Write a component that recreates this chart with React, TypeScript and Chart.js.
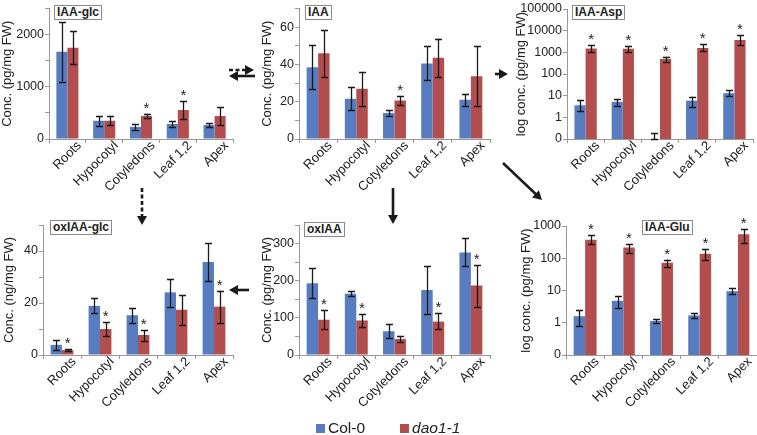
import React, { useEffect, useRef } from "react";
import { Chart, registerables } from "chart.js";
Chart.register(...registerables);

const FONT = '"Liberation Sans", Arial, sans-serif';
const categories = ["Roots", "Hypocotyl", "Cotyledons", "Leaf 1,2", "Apex"];
const seriesNames = ["Col-0", "dao1-1"];
const seriesColors = ["#587cc0", "#b24e4d"];

// IAA-glc (pg/mg FW)
const iaaGlcCol = [1670, 350, 232, 287, 268];
const iaaGlcColLo = [1100, 258, 180, 230, 228];
const iaaGlcColHi = [2240, 442, 284, 344, 308];
const iaaGlcDao = [1746, 350, 440, 554, 440];
const iaaGlcDaoLo = [1430, 262, 396, 376, 262];
const iaaGlcDaoHi = [2065, 438, 488, 732, 618];
const iaaGlcSig = [false, false, true, true, false];

// IAA (pg/mg FW)
const iaaCol = [38.5, 21.6, 13.9, 40.5, 21.1];
const iaaColLo = [27, 15.3, 12.6, 31.5, 17.8];
const iaaColHi = [50.5, 27.9, 15.3, 49.9, 24.3];
const iaaDao = [46, 26.9, 20.7, 43.6, 33.7];
const iaaDaoLo = [33.5, 17.5, 18.4, 33.4, 17.8];
const iaaDaoHi = [58.5, 35.8, 22.9, 53.9, 49.9];
const iaaSig = [false, false, true, false, false];

// IAA-Asp (log, pg/mg FW)
const iaaAspCol = [3.6, 5.2, 0.1, 5.9, 13];
const iaaAspColLo = [1.9, 3.3, 0.1, 3.1, 9.2];
const iaaAspColHi = [6.2, 7.2, 0.19, 9.1, 18.6];
const iaaAspDao = [1500, 1450, 490, 1600, 3700];
const iaaAspDaoLo = [1050, 1050, 340, 1100, 2250];
const iaaAspDaoHi = [2100, 2000, 640, 2300, 6300];
const iaaAspSig = [true, true, true, true, true];

// oxIAA-glc (ng/mg FW)
const oxIaaGlcCol = [3.9, 18.9, 15.3, 24.1, 35.8];
const oxIaaGlcColLo = [1.9, 16.1, 12.5, 18.4, 28.6];
const oxIaaGlcColHi = [5.8, 21.9, 18.0, 29.3, 43.1];
const oxIaaGlcDao = [1.9, 10.0, 7.7, 17.4, 18.6];
const oxIaaGlcDaoLo = [1.4, 7.3, 5.5, 11.6, 12.2];
const oxIaaGlcDaoHi = [2.4, 12.6, 9.6, 23.2, 24.8];
const oxIaaGlcSig = [true, true, true, false, true];

// oxIAA (pg/mg FW)
const oxIaaCol = [193, 165, 64, 175, 276];
const oxIaaColLo = [153, 158, 45, 111, 239];
const oxIaaColHi = [234, 171, 83, 239, 314];
const oxIaaDao = [95, 93, 43, 90, 187];
const oxIaaDaoLo = [69, 75, 34, 69, 129];
const oxIaaDaoHi = [120, 111, 52, 112, 241];
const oxIaaSig = [true, true, false, true, true];

// IAA-Glu (log, pg/mg FW)
const iaaGluCol = [1.6, 4.8, 1.13, 1.69, 9.5];
const iaaGluColLo = [0.8, 2.8, 1.0, 1.36, 7.7];
const iaaGluColHi = [2.46, 6.7, 1.27, 2.04, 11.6];
const iaaGluDao = [378, 214, 72, 139, 552];
const iaaGluDaoLo = [284, 146, 54, 87, 298];
const iaaGluDaoHi = [514, 284, 91, 198, 828];
const iaaGluSig = [true, true, true, true, true];

const logTicksAsp = [0.1, 1, 10, 100, 1000, 10000, 100000];
const logTicksGlu = [0.1, 1, 10, 100, 1000];

type Panel = {
  name: string;
  yTitle: string;
  log: boolean;
  max: number;
  step?: number;
  labelStep?: number;
  logTicks?: number[];
  col: number[]; colLo: number[]; colHi: number[];
  dao: number[]; daoLo: number[]; daoHi: number[];
  sig: boolean[];
  plot: { l: number; t: number; r: number; b: number };
  titleLeft: number;
  box: { x: number; y: number };
};

const panels: Panel[] = [
  { name: "IAA-glc", yTitle: "Conc. (pg/mg FW)", log: false, max: 2500, step: 500, labelStep: 1000,
    col: iaaGlcCol, colLo: iaaGlcColLo, colHi: iaaGlcColHi, dao: iaaGlcDao, daoLo: iaaGlcDaoLo, daoHi: iaaGlcDaoHi, sig: iaaGlcSig,
    plot: { l: 49, t: 8, r: 233, b: 139 }, titleLeft: 0, box: { x: 54, y: 5 } },
  { name: "IAA", yTitle: "Conc. (pg/mg FW)", log: false, max: 70, step: 10, labelStep: 20,
    col: iaaCol, colLo: iaaColLo, colHi: iaaColHi, dao: iaaDao, daoLo: iaaDaoLo, daoHi: iaaDaoHi, sig: iaaSig,
    plot: { l: 299, t: 8, r: 490, b: 139 }, titleLeft: 260, box: { x: 305, y: 5 } },
  { name: "IAA-Asp", yTitle: "log conc. (pg/mg FW)", log: true, max: 100000, logTicks: logTicksAsp,
    col: iaaAspCol, colLo: iaaAspColLo, colHi: iaaAspColHi, dao: iaaAspDao, daoLo: iaaAspDaoLo, daoHi: iaaAspDaoHi, sig: iaaAspSig,
    plot: { l: 567, t: 9, r: 753, b: 139 }, titleLeft: 514, box: { x: 572, y: 5 } },
  { name: "oxIAA-glc", yTitle: "Conc. (ng/mg FW)", log: false, max: 50, step: 10, labelStep: 20,
    col: oxIaaGlcCol, colLo: oxIaaGlcColLo, colHi: oxIaaGlcColHi, dao: oxIaaGlcDao, daoLo: oxIaaGlcDaoLo, daoHi: oxIaaGlcDaoHi, sig: oxIaaGlcSig,
    plot: { l: 43, t: 225, r: 233, b: 355 }, titleLeft: 2, box: { x: 50, y: 220 } },
  { name: "oxIAA", yTitle: "Conc. (pg/mg FW)", log: false, max: 350, step: 50, labelStep: 100,
    col: oxIaaCol, colLo: oxIaaColLo, colHi: oxIaaColHi, dao: oxIaaDao, daoLo: oxIaaDaoLo, daoHi: oxIaaDaoHi, sig: oxIaaSig,
    plot: { l: 299, t: 225, r: 490, b: 355 }, titleLeft: 260, box: { x: 304, y: 222 } },
  { name: "IAA-Glu", yTitle: "log conc. (pg/mg FW)", log: true, max: 1000, logTicks: logTicksGlu,
    col: iaaGluCol, colLo: iaaGluColLo, colHi: iaaGluColHi, dao: iaaGluDao, daoLo: iaaGluDaoLo, daoHi: iaaGluDaoHi, sig: iaaGluSig,
    plot: { l: 566, t: 226, r: 757, b: 355 }, titleLeft: 519, box: { x: 642, y: 220 } },
];

const W = 757;
const H = 435;

const errorBarPlugin = {
  id: "errorBars",
  afterDatasetsDraw(chart: any) {
    const { ctx } = chart;
    const y = chart.scales.y;
    chart.data.datasets.forEach((ds: any, i: number) => {
      const meta = chart.getDatasetMeta(i);
      meta.data.forEach((bar: any, j: number) => {
        const x = Math.round(bar.x) + 0.5;
        const yl = y.getPixelForValue(ds.errLo[j]);
        const yh = y.getPixelForValue(ds.errHi[j]);
        ctx.save();
        ctx.strokeStyle = "#1a1a1a";
        ctx.lineWidth = 1.3;
        ctx.beginPath();
        ctx.moveTo(x, yl);
        ctx.lineTo(x, yh);
        ctx.moveTo(x - 3.5, Math.round(yl) + 0.5);
        ctx.lineTo(x + 3.5, Math.round(yl) + 0.5);
        ctx.moveTo(x - 3.5, Math.round(yh) + 0.5);
        ctx.lineTo(x + 3.5, Math.round(yh) + 0.5);
        ctx.stroke();
        if (ds.sig && ds.sig[j]) {
          ctx.fillStyle = "#222";
          ctx.font = "15px " + FONT;
          ctx.textAlign = "center";
          ctx.textBaseline = "alphabetic";
          ctx.fillText("*", bar.x, yh - 1);
        }
        ctx.restore();
      });
    });
  },
};

function PanelChart({ p }: { p: Panel }) {
  const ref = useRef<HTMLCanvasElement | null>(null);
  useEffect(() => {
    if (!ref.current) return;
    const yScale: any = p.log
      ? {
          type: "logarithmic",
          min: 0.1,
          max: p.max,
          afterBuildTicks: (s: any) => {
            s.ticks = (p.logTicks || []).map((v) => ({ value: v }));
          },
          ticks: {
            callback: (v: any) => (Number(v) < 1 ? "0" : String(Number(v))),
          },
        }
      : {
          type: "linear",
          min: 0,
          max: p.max,
          ticks: {
            stepSize: p.step,
            callback: (v: any) => (Number(v) % (p.labelStep || 1) === 0 ? String(v) : ""),
          },
        };
    yScale.ticks = {
      ...yScale.ticks,
      color: "#222",
      font: { family: FONT, size: 12.5 },
      padding: 1,
    };
    yScale.grid = { drawOnChartArea: false, tickLength: 4, color: "#999" };
    yScale.border = { color: "#999", width: 1 };
    yScale.title = {
      display: true,
      text: p.yTitle,
      color: "#222",
      font: { family: FONT, size: 13 },
      padding: 0,
    };
    yScale.afterFit = (s: any) => {
      s.width = p.plot.l - p.titleLeft;
    };

    const chart = new Chart(ref.current, {
      type: "bar",
      data: {
        labels: categories,
        datasets: [
          {
            label: seriesNames[0],
            data: p.col,
            backgroundColor: seriesColors[0],
            errLo: p.colLo,
            errHi: p.colHi,
          } as any,
          {
            label: seriesNames[1],
            data: p.dao,
            backgroundColor: seriesColors[1],
            errLo: p.daoLo,
            errHi: p.daoHi,
            sig: p.sig,
          } as any,
        ],
      },
      options: {
        animation: false,
        responsive: false,
        events: [],
        datasets: { bar: { categoryPercentage: 0.6, barPercentage: 1.0 } },
        layout: {
          padding: { left: p.titleLeft, top: p.plot.t, right: W - p.plot.r, bottom: 0 },
        },
        plugins: { legend: { display: false }, tooltip: { enabled: false }, title: { display: false } },
        scales: {
          x: {
            grid: { drawOnChartArea: false, tickLength: 4, color: "#999", offset: true },
            border: { color: "#999", width: 1 },
            ticks: {
              color: "#222",
              font: { family: FONT, size: 13 },
              maxRotation: 45,
              minRotation: 45,
              autoSkip: false,
              padding: -5,
              labelOffset: 12,
            },
            afterFit: (s: any) => {
              s.height = H - p.plot.b;
            },
          },
          y: yScale,
        },
      },
      plugins: [errorBarPlugin],
    } as any);
    return () => chart.destroy();
  }, [p]);
  return (
    <canvas
      ref={ref}
      width={W}
      height={H}
      style={{ position: "absolute", left: 0, top: 0, width: W, height: H }}
    />
  );
}

function Arrow({ x1, y1, x2, y2, dashed }: { x1: number; y1: number; x2: number; y2: number; dashed?: boolean }) {
  const dx = x2 - x1;
  const dy = y2 - y1;
  const len = Math.sqrt(dx * dx + dy * dy);
  const ux = dx / len;
  const uy = dy / len;
  const hl = 9;
  const hw = 5;
  const bx = x2 - ux * hl;
  const by = y2 - uy * hl;
  const pts = `${x2},${y2} ${bx - uy * hw},${by + ux * hw} ${bx + uy * hw},${by - ux * hw}`;
  return (
    <g>
      <line
        x1={x1}
        y1={y1}
        x2={bx + ux * 1}
        y2={by + uy * 1}
        stroke="#1a1a1a"
        strokeWidth={2.6}
        strokeDasharray={dashed ? "4 2.5" : undefined}
      />
      <polygon points={pts} fill="#1a1a1a" />
    </g>
  );
}

const boxStyle: React.CSSProperties = {
  position: "absolute",
  border: "1px solid #8a8a8a",
  background: "#fff",
  fontFamily: FONT,
  fontWeight: "bold",
  fontSize: 12,
  lineHeight: "13px",
  padding: "0px 2px",
  color: "#222",
  whiteSpace: "nowrap",
};

export default function App() {
  return (
    <div
      style={{
        position: "fixed",
        left: 0,
        top: 0,
        width: W,
        height: H,
        background: "#fff",
        overflow: "hidden",
      }}
    >
      {panels.map((p) => (
        <PanelChart key={p.name} p={p} />
      ))}
      {panels.map((p) => (
        <div key={"b" + p.name} style={{ ...boxStyle, left: p.box.x, top: p.box.y }}>
          {p.name}
        </div>
      ))}
      <svg
        width={W}
        height={H}
        style={{ position: "absolute", left: 0, top: 0, pointerEvents: "none" }}
      >
        <Arrow x1={229} y1={70} x2={254} y2={70} dashed />
        <Arrow x1={255} y1={76} x2={229} y2={76} />
        <Arrow x1={495} y1={74} x2={508} y2={74} />
        <Arrow x1={142} y1={188} x2={142} y2={225} dashed />
        <Arrow x1={393} y1={188} x2={393} y2={224} />
        <Arrow x1={503} y1={163} x2={542} y2={200} />
        <Arrow x1={249} y1={290} x2={229} y2={290} />
      </svg>
      <div
        style={{
          position: "absolute",
          left: 316,
          top: 419,
          fontFamily: FONT,
          fontSize: 15.5,
          lineHeight: "18px",
          color: "#222",
          display: "flex",
          alignItems: "center",
          whiteSpace: "nowrap",
        }}
      >
        <span style={{ display: "inline-block", width: 9, height: 9, background: seriesColors[0], marginRight: 3 }} />
        <span>{seriesNames[0]}</span>
        <span style={{ display: "inline-block", width: 9, height: 9, background: seriesColors[1], marginLeft: 35, marginRight: 3 }} />
        <span style={{ fontStyle: "italic" }}>{seriesNames[1]}</span>
      </div>
    </div>
  );
}
